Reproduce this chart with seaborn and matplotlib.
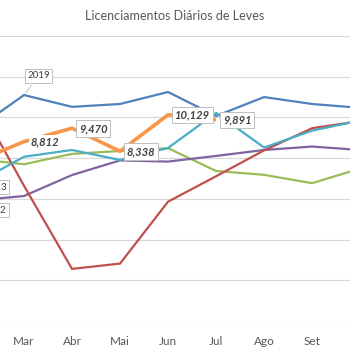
import matplotlib
matplotlib.use("Agg")
import matplotlib.pyplot as plt
import pandas as pd
import seaborn as sns

# months shown (Fev is just off the left edge, Out off the right edge)
months = ["Jan", "Fev", "Mar", "Abr", "Mai", "Jun", "Jul", "Ago", "Set", "Out", "Nov", "Dez"]

# daily light-vehicle registrations, Fev..Out
s2019 = [9430, 11100, 10520, 10660, 11250, 10070, 11000, 10660, 10470]
s2021 = [7830, 8812, 9470, 8338, 10129, 9891]            # Fev..Jul only
s2018 = [6770, 8070, 8400, 7910, 8500, 10220, 8520, 9350, 9850]
s2017 = [7960, 7700, 8210, 8350, 8490, 7370, 7180, 6770, 7490]
s2016 = [5920, 6140, 7170, 7890, 7830, 8110, 8400, 8570, 8400]
s2020 = [10900, 6640, 2560, 2820, 5860, 7110, 8380, 9470, 9820]

series = {
    "2019": s2019,
    "2017": s2017,
    "2016": s2016,
    "2020": s2020,
    "2018": s2018,
    "2021": s2021,
}
colors = {
    "2019": "#4F81BD",
    "2021": "#F79646",
    "2018": "#4BACC6",
    "2017": "#9BBB59",
    "2016": "#8064A2",
    "2020": "#C0504D",
}

sns.set_style("white")
plt.rcParams["font.family"] = ["Lato", "DejaVu Sans"]

fig = plt.figure(figsize=(3.5, 3.5), dpi=100)
ax = fig.add_axes([0, 29 / 350, 1, 285 / 350])

for name, vals in series.items():
    d = pd.DataFrame({"m": range(1, 1 + len(vals)), "v": vals})
    lw = 2.6 if name == "2021" else 1.6
    sns.lineplot(data=d, x="m", y="v", color=colors[name], lw=lw, ax=ax,
                 solid_capstyle="butt", solid_joinstyle="miter")

ax.set_xlim(1.5, 8.79)
ax.set_ylim(0, 14000)
ax.set_yticks(range(0, 14001, 2000))
ax.set_xticks(range(2, 9))
ax.set_xticklabels(months[2:9])
ax.set_yticklabels([])
ax.grid(axis="y", color="#d9d9d9", lw=0.9)
ax.set_axisbelow(True)
for sp in ax.spines.values():
    sp.set_visible(False)
ax.tick_params(axis="x", length=0, pad=11, labelsize=8.5, colors="#595959")
ax.tick_params(axis="y", length=0)
ax.set_xlabel("")
ax.set_ylabel("")

fig.text(0.5, 1 - 16 / 350, "Licenciamentos Diários de Leves", ha="center", va="center",
         fontsize=9, color="#595959")

box = dict(boxstyle="square,pad=0.25", fc="white", ec="#bfbfbf", lw=0.7)
plain = dict(boxstyle="square,pad=0.15", fc="white", ec="none")

# series label
ax.annotate("2019", xy=(2, s2019[1]), xytext=(2.07, 12050), fontsize=7, color="#404040",
            ha="left", va="center", bbox=box,
            arrowprops=dict(arrowstyle="-", color="#bfbfbf", lw=0.7))

# cut-off labels at the left edge
ax.text(1.64, 6580, "2013", ha="right", va="center", fontsize=7, color="#404040",
        bbox=box, clip_on=False)
ax.text(1.64, 5440, "2012", ha="right", va="center", fontsize=7, color="#404040",
        bbox=box, clip_on=False)

# value labels on 2021
for i, v in enumerate(s2021[1:], start=2):
    b = plain if i == 2 else box
    ax.text(i + 0.14, v - 20, f"{v:,}", ha="left", va="center", fontsize=8,
            style="italic", weight="bold", color="#404040", bbox=b, zorder=5)

fig.savefig("out.png", dpi=100)
